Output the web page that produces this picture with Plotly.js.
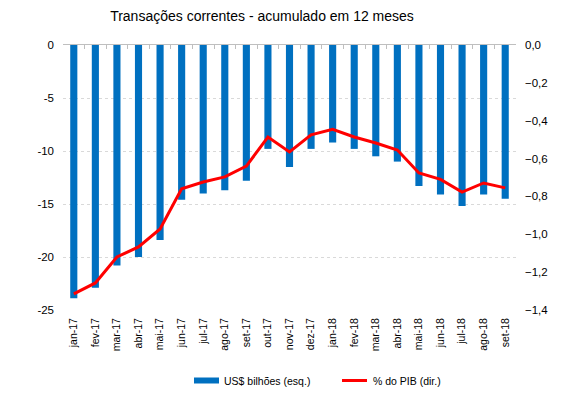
<!DOCTYPE html>
<html>
<head>
<meta charset="utf-8">
<script src="https://cdn.plot.ly/plotly-3.0.1.min.js"></script>
<style>html,body{margin:0;padding:0;background:#fff;}#chart{width:587px;height:394px;}</style>
</head>
<body>
<div id="chart"></div>
<script>
const months = ["jan-17","fev-17","mar-17","abr-17","mai-17","jun-17","jul-17","ago-17","set-17","out-17","nov-17","dez-17","jan-18","fev-18","mar-18","abr-18","mai-18","jun-18","jul-18","ago-18","set-18"];
const usdBilhoes = [-23.9,-22.9,-20.8,-20.0,-18.4,-14.6,-14.0,-13.7,-12.8,-9.8,-11.5,-9.8,-9.2,-9.8,-10.5,-11.0,-13.3,-14.1,-15.2,-14.1,-14.5];
const pctPIB = [-1.315,-1.257,-1.12,-1.067,-0.972,-0.76,-0.724,-0.697,-0.64,-0.486,-0.565,-0.475,-0.445,-0.486,-0.518,-0.555,-0.676,-0.71,-0.777,-0.729,-0.755];
const leftTicks = [0,-5,-10,-15,-20,-25];
const rightTicks = [0,-0.2,-0.4,-0.6,-0.8,-1.0,-1.2,-1.4];
const seriesNames = ["US$ bilhões (esq.)", "% do PIB (dir.)"];
const seriesColors = ["#0070C0", "#FF0000"];

const FONT = "Liberation Sans, Arial, sans-serif";
const W = 587, H = 394, ML = 63, MR = 71, MT = 45, MB = 84;
const PW = W - ML - MR, PH = H - MT - MB;
const px = x => (x - ML) / PW;
const py = y => (H - MB - y) / PH;

const traces = [
  {type:"bar", x:months, y:usdBilhoes, name:seriesNames[0], marker:{color:seriesColors[0]}, width:0.33, yaxis:"y", xaxis:"x", showlegend:false},
  {type:"scatter", mode:"lines", x:months, y:pctPIB, name:seriesNames[1], line:{color:seriesColors[1], width:3}, yaxis:"y2", xaxis:"x", showlegend:false},
  {type:"scatter", mode:"lines", x:months, y:months.map(()=>null), xaxis:"x2", yaxis:"y", showlegend:false, hoverinfo:"skip"}
];
const layout = {
  width:W, height:H,
  margin:{l:ML, r:MR, t:MT, b:MB},
  paper_bgcolor:"#fff", plot_bgcolor:"#fff",
  separators:",.",
  font:{family:FONT, size:11, color:"#000"},
  title:{text:"Transações correntes - acumulado em 12 meses", x:262/W, xanchor:"center", y:1-16/H, yanchor:"middle", font:{family:FONT, size:14, color:"#000"}},
  xaxis:{type:"category", categoryarray:months, tickangle:-90, tickfont:{size:10.5}, ticklabelstandoff:5, showline:false, ticks:"", showgrid:false, zeroline:false, range:[-0.5, months.length-0.5], automargin:false},
  xaxis2:{type:"category", categoryarray:months, overlaying:"x", side:"top", matches:"x", showticklabels:false, showline:true, linecolor:"#BFBFBF", linewidth:1, ticks:"inside", ticklen:4, tickcolor:"#BFBFBF", tickson:"boundaries", showgrid:false},
  yaxis:{range:[-25,0], tickvals:leftTicks, ticktext:leftTicks.map(String), showgrid:true, gridcolor:"#D9D9D9", griddash:"dot", gridwidth:1, zeroline:false, showline:false, ticks:"", tickfont:{size:11.5}, ticklabelstandoff:8, automargin:false},
  yaxis2:{range:[-1.4,0], overlaying:"y", side:"right", tickvals:rightTicks, tickformat:".1f", showgrid:false, zeroline:false, showline:false, ticks:"", tickfont:{size:11.5}, ticklabelstandoff:8, automargin:false},
  showlegend:false,
  shapes:[
    {type:"rect", xref:"paper", yref:"paper", x0:px(194), x1:px(219), y0:py(383.5), y1:py(377.5), fillcolor:seriesColors[0], line:{width:0}},
    {type:"line", xref:"paper", yref:"paper", x0:px(342), x1:px(367), y0:py(380.5), y1:py(380.5), line:{color:seriesColors[1], width:3}}
  ],
  annotations:[
    {text:seriesNames[0], xref:"paper", yref:"paper", x:px(222), y:py(380.5), xanchor:"left", yanchor:"middle", showarrow:false, font:{size:10.5}},
    {text:seriesNames[1], xref:"paper", yref:"paper", x:px(371), y:py(380.5), xanchor:"left", yanchor:"middle", showarrow:false, font:{size:10.5}}
  ]
};
Plotly.newPlot("chart", traces, layout, {displayModeBar:false, staticPlot:true});
</script>
</body>
</html>
